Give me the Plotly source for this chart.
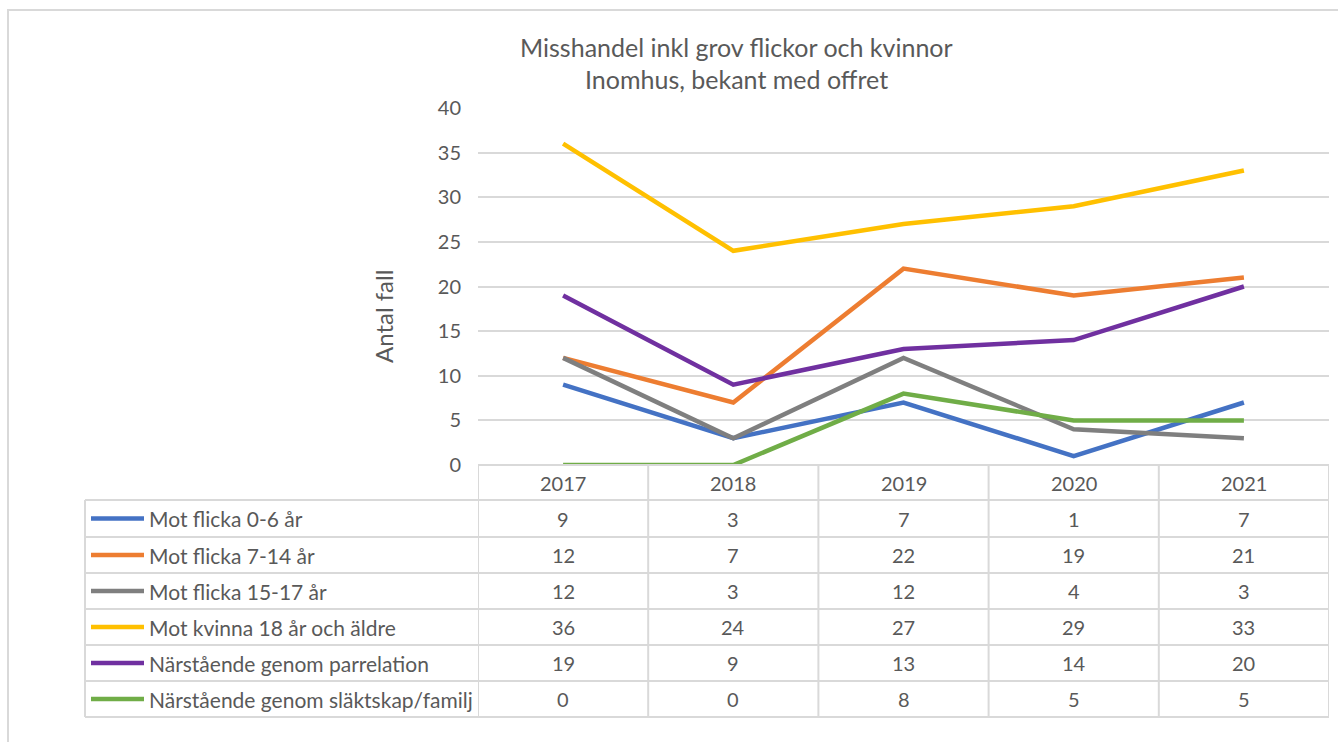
import plotly.graph_objects as go

W, H = 1338, 742

years = ["2017", "2018", "2019", "2020", "2021"]
series_names = [
    "Mot flicka 0-6 år",
    "Mot flicka 7-14 år",
    "Mot flicka 15-17 år",
    "Mot kvinna 18 år och äldre",
    "Närstående genom parrelation",
    "Närstående genom släktskap/familj",
]
flicka_0_6 = [9, 3, 7, 1, 7]
flicka_7_14 = [12, 7, 22, 19, 21]
flicka_15_17 = [12, 3, 12, 4, 3]
kvinna_18 = [36, 24, 27, 29, 33]
parrelation = [19, 9, 13, 14, 20]
slaktskap = [0, 0, 8, 5, 5]
series_values = [flicka_0_6, flicka_7_14, flicka_15_17, kvinna_18, parrelation, slaktskap]
colors = ["#4472C4", "#ED7D31", "#7F7F7F", "#FFC000", "#7030A0", "#70AD47"]

FONT = "Lato, 'Open Sans', sans-serif"
TXT = "#595959"
GRID = "#D9D9D9"

def py(p):  # pixel y -> paper y
    return 1 - p / H

def px(p):
    return p / W

plot_l, plot_r = 478, 1329
plot_t, plot_b = 108, 465

xs = list(range(len(years)))

fig = go.Figure()
for name, vals, c in zip(series_names, series_values, colors):
    fig.add_trace(go.Scatter(
        x=xs, y=vals, mode="lines", name=name,
        line=dict(color=c, width=4.5), showlegend=False, hoverinfo="y+name",
    ))

shapes = []
annotations = []

def ann(**kw):
    base = dict(showarrow=False, xanchor="center", yanchor="middle")
    base.update(kw)
    annotations.append(base)

# outer chart frame
shapes.append(dict(type="rect", xref="paper", yref="paper",
                   x0=px(8), x1=px(1345), y0=py(750), y1=py(10),
                   line=dict(color="#D9D9D9", width=2), layer="below"))

# Data table
row_edges = [465, 500, 537, 573, 609, 645, 681, 717]
tl = dict(color=GRID, width=2)
shapes.append(dict(type="line", xref="paper", yref="paper",
                   x0=px(plot_l), x1=px(plot_r), y0=py(465), y1=py(465), line=tl))
for e in row_edges[1:]:
    shapes.append(dict(type="line", xref="paper", yref="paper",
                       x0=px(85), x1=px(plot_r), y0=py(e), y1=py(e), line=tl))
for i in range(len(years) + 1):
    shapes.append(dict(type="line", xref="x", yref="paper",
                       x0=i - 0.5, x1=i - 0.5, y0=py(717), y1=py(465), line=tl))
shapes.append(dict(type="line", xref="paper", yref="paper",
                   x0=px(85), x1=px(85), y0=py(717), y1=py(500), line=tl))

for i, yv in enumerate(years):
    ann(x=i, y=py((465 + 500) / 2), xref="x", yref="paper", text=yv,
        font=dict(family=FONT, size=20, color=TXT))
for r, (name, vals, c) in enumerate(zip(series_names, series_values, colors)):
    yc = (row_edges[r + 1] + row_edges[r + 2]) / 2
    shapes.append(dict(type="line", xref="paper", yref="paper",
                       x0=px(91), x1=px(144), y0=py(yc), y1=py(yc),
                       line=dict(color=c, width=4.5)))
    ann(x=px(147), y=py(yc), xref="paper", yref="paper", text=name, xanchor="left",
        font=dict(family=FONT, size=21, color=TXT))
    for i, v in enumerate(vals):
        ann(x=i, y=py(yc), xref="x", yref="paper", text=str(v),
            font=dict(family=FONT, size=20, color=TXT))

# Title
ann(x=px(736), y=py(47), xref="paper", yref="paper",
    text="Misshandel inkl grov flickor och kvinnor",
    font=dict(family=FONT, size=25, color=TXT))
ann(x=px(736), y=py(79), xref="paper", yref="paper",
    text="Inomhus, bekant med offret",
    font=dict(family=FONT, size=25, color=TXT))
# Y axis title
ann(x=px(384), y=py(317), xref="paper", yref="paper",
    text="Antal fall", textangle=-90,
    font=dict(family=FONT, size=24, color=TXT))

fig.update_layout(
    width=W, height=H,
    margin=dict(l=0, r=0, t=0, b=0, autoexpand=False),
    paper_bgcolor="white", plot_bgcolor="white",
    shapes=shapes, annotations=annotations,
    xaxis=dict(domain=[px(plot_l), px(plot_r)], range=[-0.5, 4.5],
               showticklabels=False, showgrid=False, zeroline=False,
               showline=False, fixedrange=True, automargin=False),
    yaxis=dict(domain=[py(plot_b), py(plot_t)], range=[0, 40], dtick=5,
               showgrid=True, gridcolor=GRID, gridwidth=2, zeroline=False,
               showline=False, ticks="", ticklabelstandoff=16, automargin=False,
               tickfont=dict(family=FONT, size=20, color=TXT), fixedrange=True),
    showlegend=False,
)

fig.write_html(
    "out.html",
    config={"displayModeBar": False},
    post_script="document.body.style.margin='0';document.body.style.overflow='hidden';",
)
